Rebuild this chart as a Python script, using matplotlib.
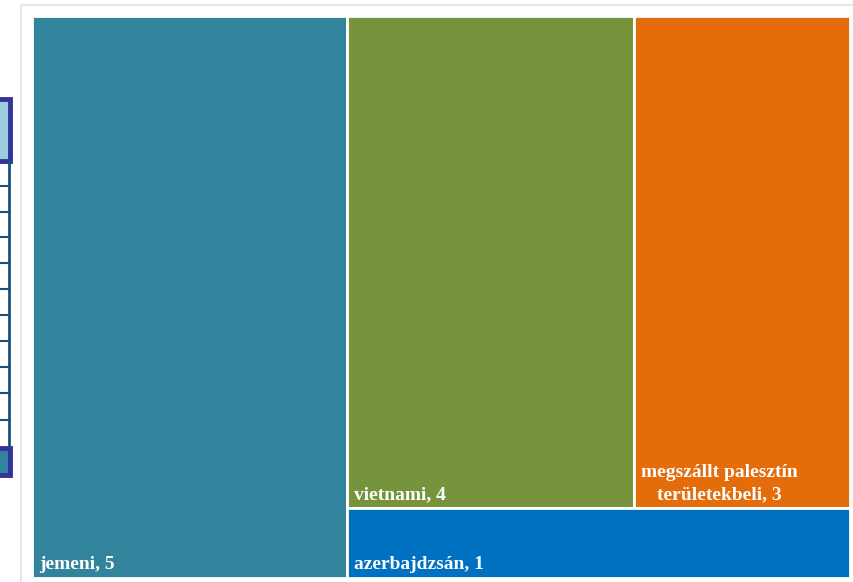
import matplotlib.pyplot as plt
from matplotlib.patches import Rectangle

labels = ['jemeni', 'vietnami', 'megszállt palesztín\nterületekbeli', 'azerbajdzsán']
values = [5, 4, 3, 1]
colors = ['#31849B', '#77933C', '#E46C0A', '#0070C0']

# table fragment at the left edge (decoration)
row_lines = [186, 212, 237, 263, 289, 315, 341, 367, 393, 420]

W, H = 854, 582
fig = plt.figure(figsize=(W / 100, H / 100), dpi=100)
ax = fig.add_axes([0, 0, 1, 1])
ax.set_xlim(0, W)
ax.set_ylim(H, 0)
ax.axis('off')


def layout(vals, x, y, w, h):
	# first value takes a full-height column, last one a bottom strip,
	# the rest share the top part side by side
	total = sum(vals)
	rects = []
	w0 = w * vals[0] / total
	rects.append((x, y, w0, h))
	rest = total - vals[0]
	x1, w1 = x + w0, w - w0
	h_last = h * vals[-1] / rest
	h_top = h - h_last
	mid = vals[1:-1]
	cx = x1
	for v in mid:
		cw = w1 * v / sum(mid)
		rects.append((cx, y, cw, h_top))
		cx += cw
	rects.append((x1, y + h_top, w1, h_last))
	return rects


# chart frame
ax.add_patch(Rectangle((21, 5), 840, 585, fill=False, edgecolor='#E6E6E6', lw=1.5))

rects = layout(values, 32, 16, 818, 562)
for (rx, ry, rw, rh), lab, v, c in zip(rects, labels, values, colors):
	ax.add_patch(Rectangle((rx, ry), rw, rh, facecolor=c, edgecolor='white', lw=2))
	ax.text(rx + 7, ry + rh - 9, f'{lab}, {v}', color='white', fontsize=14,
			fontweight='bold', family='Liberation Serif', ha='left', va='baseline',
			multialignment='center', linespacing=1.35)

# left table fragment
ax.add_patch(Rectangle((-5, 99), 15, 62, facecolor='#99CCDD', edgecolor='#333399', lw=3.5))
ax.plot([9.5, 9.5], [161, 447], color='#1F4E79', lw=2)
for yy in row_lines:
	ax.plot([0, 9.5], [yy, yy], color='#1F4E79', lw=1.5)
ax.add_patch(Rectangle((-5, 448), 15, 27, facecolor='#31849B', edgecolor='#333399', lw=3.5))

fig.savefig('out.png', dpi=100)
